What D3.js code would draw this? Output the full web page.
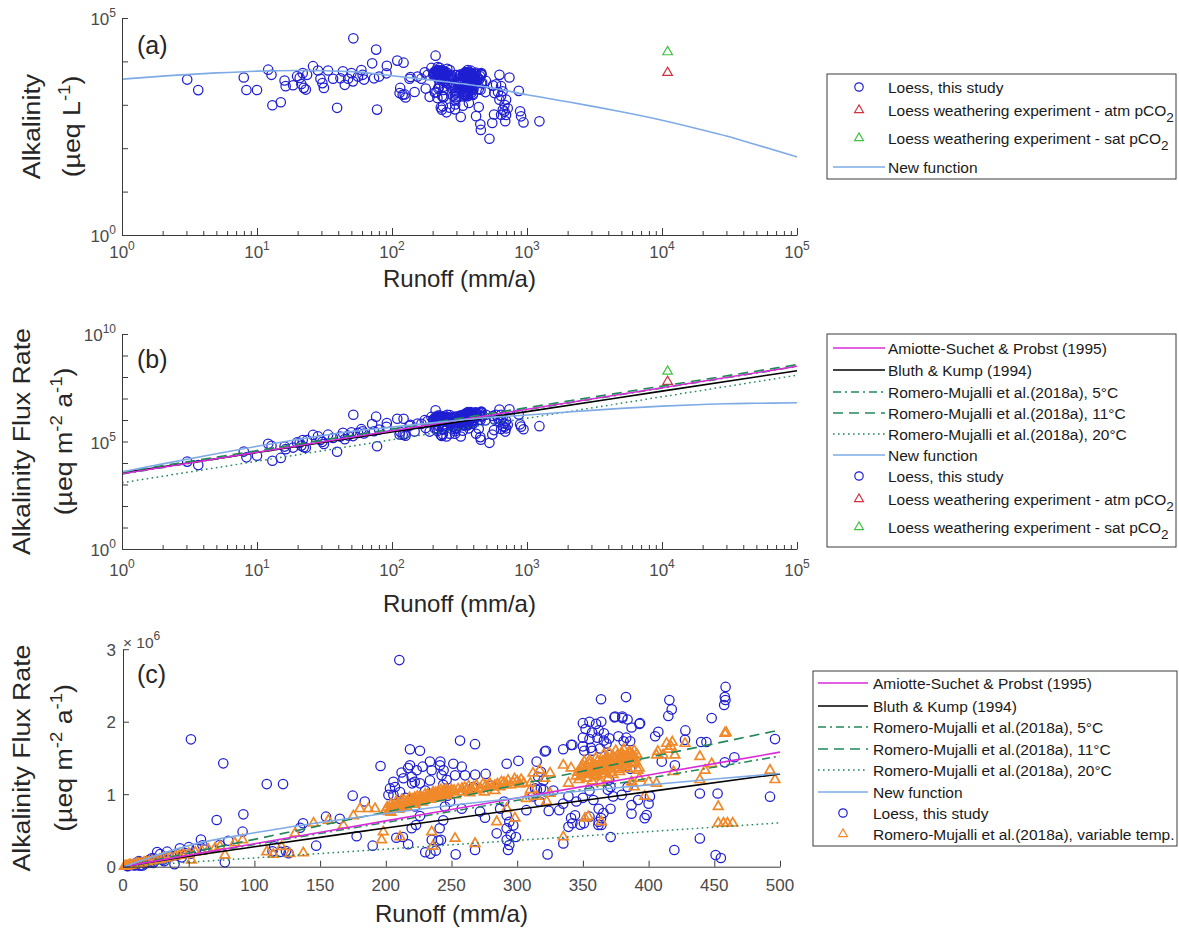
<!DOCTYPE html>
<html>
<head>
<meta charset="utf-8">
<script src="https://cdn.jsdelivr.net/npm/d3@7"></script>
<style>
  body { margin: 0; background: #fff; }
  svg { font-family: "Liberation Sans", Arial, Helvetica, sans-serif; }
</style>
</head>
<body>
<svg id="fig" width="1179" height="933"></svg>
<script>
// ---------------------------------------------------------------------------
// Loess samples: [runoff (mm/a), alkalinity flux (10^6 µeq m^-2 a^-1)]
// Concentration (µeq/L) follows as flux / runoff (1 mm = 1 L m^-2).
// ---------------------------------------------------------------------------
const loessPoints = [
  [3.04,0.0116],[3.67,0.0080],[7.98,0.0340],[8.35,0.0183],[10.0,0.0219],[12.1,0.0781],
  [12.8,0.0627],[13.0,0.0127],[15.0,0.0172],[16.0,0.0581],[16.3,0.0439],[18.5,0.0521],
  [19.8,0.0905],[20.7,0.0863],[21.3,0.0643],[22.2,0.0545],[23.0,0.0515],[23.5,0.1151],
  [21.8,0.1170],[26.0,0.2018],[28.3,0.1745],[29.5,0.1174],[30.5,0.0964],[31.3,0.0768],
  [33.6,0.2072],[36.6,0.1457],[39.2,0.0334],[41.5,0.1691],[43.3,0.2550],[44.7,0.1289],
  [47.3,0.1883],[50.1,0.2690],[51.4,0.1782],[51.7,1.757],[56.0,0.2501],[59.3,0.3742],
  [60.5,0.2963],[62.0,0.2360],[71.3,0.644],[73.6,0.2999],[76.3,1.426],[77.5,0.060],
  [80.2,0.3582],[91.0,0.483],[91.6,0.722],
  [109.4,1.14],[113.8,0.212],[115.0,0.282],[120.0,0.205],[121.8,1.14],[124.0,0.215],
  [126.0,0.186],[134.8,0.537],[137.0,0.60],[147.0,0.29],[154.5,0.69],[165.0,0.66],
  [174.8,0.98],[177.8,0.42],[184.0,0.90],[190.0,0.29],[196.0,1.389],
  [202.0,0.99],[203.2,1.08],[205.8,1.17],[205.8,0.99],[207.0,1.10],[208.0,0.40],
  [210.3,2.85],[210.8,1.03],[212.0,1.30],[213.0,0.41],[213.4,1.22],[215.0,0.95],
  [217.0,1.36],[217.0,0.31],[218.4,1.40],[218.4,1.62],[219.7,1.24],[219.7,0.53],
  [220.0,1.15],[222.0,1.17],[222.2,0.83],[223.0,0.575],[223.5,1.33],[226.0,1.60],
  [226.0,1.15],[226.0,0.70],[228.0,1.38],[229.8,0.94],[230.0,1.05],[230.0,0.20],
  [233.6,1.45],[233.6,1.19],[234.0,0.18],[234.9,1.33],[235.0,0.37],[237.0,1.00],
  [238.0,0.22],[240.0,0.36],[241.0,0.53],[241.2,1.40],[242.0,0.37],[242.5,1.26],
  [243.7,1.13],[243.7,0.64],[244.0,1.33],[245.0,0.83],[246.3,1.20],[247.0,0.98],
  [248.9,0.90],[241.5,1.45],
  [251.4,1.42],[252.7,1.26],[253.2,0.17],[256.5,1.74],[257.8,1.38],[257.8,0.80],
  [260.3,1.26],[262.0,1.05],[266.6,1.10],[267.9,1.69],[267.9,0.23],[268.0,1.27],
  [271.7,0.76],[275.5,0.676],[276.0,1.28],[280.0,1.12],[284.4,0.46],[287.0,0.80],
  [290.0,0.90],[292.0,1.42],[292.0,0.71],[292.0,0.53],[292.0,0.37],[293.0,0.23],
  [294.0,0.62],[294.0,0.30],[295.0,0.44],[297.0,0.57],[299.0,0.41],[300.9,1.46],
  [307.0,0.78],
  [312.0,0.97],[313.6,1.08],[314.8,1.45],[315.0,1.06],[316.0,1.24],[317.0,0.90],
  [318.0,1.08],[318.0,1.31],[320.0,1.19],[320.0,1.06],[321.0,1.59],[321.9,1.60],
  [323.1,0.17],[324.0,0.77],[327.5,1.05],[332.0,0.78],[335.0,1.62],[335.0,0.87],
  [335.1,0.32],[339.0,0.55],[339.0,0.97],[341.0,0.67],[341.0,1.68],[342.0,1.68],
  [342.0,0.60],[344.0,0.71],[345.0,0.90],[348.0,0.58],[350.0,1.98],[350.0,1.78],
  [350.0,1.66],[350.0,0.95],[350.8,0.60],[351.0,1.60],[352.0,1.90],[355.0,2.00],
  [355.0,1.76],[355.0,1.05],[355.0,0.69],[356.0,1.64],[357.0,1.85],[357.0,1.60],
  [358.0,0.92],[360.0,1.97],[361.0,1.78],[361.8,0.576],[362.0,1.88],[362.0,0.80],
  [362.0,0.62],[363.0,1.63],[363.8,2.31],[363.8,0.67],[364.0,2.00],[364.0,0.575],
  [365.6,0.74],[366.0,1.84],[366.0,1.74],[368.0,1.70],[369.0,1.06],[370.0,1.77],
  [370.0,1.54],[370.0,1.20],[371.0,1.10],[371.0,0.80],[371.1,0.41],[373.0,1.47],
  [373.0,0.97],[374.0,2.06],[374.5,2.07],[377.0,1.80],[379.5,0.99],[380.0,2.07],
  [380.0,2.05],[381.0,1.73],[382.8,2.34],[383.0,1.78],[383.0,1.38],[384.0,2.03],
  [384.0,1.10],[386.0,1.73],[386.0,1.35],[387.0,1.92],[387.0,0.85],[387.0,0.73],
  [392.0,0.92],[393.0,1.97],[393.5,1.98],[397.0,0.67],[398.5,0.713],[400.0,0.87],
  [401.0,0.97],[405.0,1.80],[407.4,1.86],[410.0,1.45],[415.0,2.08],[415.8,2.30],
  [417.6,2.17],[419.6,0.23],[420.0,1.40],[427.7,1.75],[428.0,1.88],[439.0,1.01],
  [439.0,0.39],[440.0,1.72],[444.0,1.72],[448.0,2.05],[451.0,0.16],[452.5,1.01],
  [455.0,0.12],[457.5,2.23],[458.0,2.34],[458.0,1.44],[458.5,2.30],[458.6,2.48],
  [465.3,1.51],[492.4,0.966],[496.2,1.76],
  [527,0.087],[553,0.21],[560,1.55],[570,0.34],[574,1.07],[590,1.74],[610,1.20],
  [625,3.06],[625,0.82],[643,1.73],[643,1.02],[643,0.38],[660,1.35],[662,0.51],
  [681,0.68],[681,0.48],[690,0.29],[700,0.41],[700,0.92],[720,0.60],[741,3.16],
  [869,1.82],[889,0.63],[904,0.49],[942,0.37],[1236,0.515]
];

// Romero-Mujalli et al. (2018a) variable-temperature runs:
// [runoff (mm/a), alkalinity flux (10^6 µeq m^-2 a^-1)]
const romeroVarPoints = [
  [1,0.004],[2,0.007],[3,0.011],[4,0.015],[5,0.019],[6,0.022],[8,0.029],[10,0.036],
  [12,0.044],[14,0.050],[16,0.058],[18,0.065],[20,0.073],[22,0.079],[25,0.090],
  [28,0.101],[30,0.110],[33,0.119],[36,0.131],[40,0.146],[43,0.157],[46,0.168],
  [50,0.182],[52,0.090],[55,0.200],[60,0.218],[65,0.236],[70,0.255],[73.8,0.28],
  [77.6,0.16],[85,0.33],[91,0.37],[109.4,0.205],[114.4,0.17],[120.7,0.276],[127,0.18],
  [131,0.46],[137.2,0.19],[145,0.60],[156.3,0.64],[167.7,0.57],[175.3,0.70],
  [180.3,0.80],[186.7,0.80],[191.8,0.80],[196.8,0.37],[198.1,0.48],[210.8,0.41],
  [234.9,0.48],[235.7,0.28],
  [200,0.78],[203,0.80],[204,0.75],[205,0.83],[207,0.82],[209,0.86],[210,0.79],
  [211,0.84],[212,0.92],[213,0.88],[215,0.87],[216,0.83],[217,0.90],[218,0.95],
  [219,0.89],[221,0.92],[222,0.86],[223,0.90],[224,0.97],[225,0.93],[227,0.95],
  [228,0.89],[229,0.94],[230,1.00],[231,0.97],[233,0.96],[234,0.93],[235,0.99],
  [236,1.03],[237,0.98],[239,1.00],[240,0.95],[241,1.02],[242,1.06],[243,1.01],
  [245,1.03],[246,0.98],[247,1.05],[249,1.04],
  [201,0.82],[202,0.76],[204,0.86],[206,0.79],[208,0.84],[208,0.90],[210,0.87],
  [212,0.82],[214,0.91],[214,0.85],[216,0.89],[218,0.86],[220,0.93],[220,0.88],
  [222,0.95],[224,0.90],[226,0.97],[226,0.91],[228,0.94],[230,0.93],[232,1.00],
  [232,0.95],[234,0.98],[236,0.96],[238,1.02],[238,0.97],[240,1.04],[242,0.99],
  [244,1.05],[244,1.00],[246,1.07],[248,1.02],[250,1.06],
  [252,1.05],[253,0.99],[258,1.08],[262,1.06],[264,1.02],[267,1.10],[272,1.08],
  [275,1.03],[276,1.12],[281,1.10],[283,1.05],[285,1.14],[290,1.16],[295,1.13],
  [300,1.18],[305,1.15],[252.7,0.39],[267.9,0.32],[284.4,0.62],[292,0.80],
  [298.3,0.67],[307,0.94],
  [255,1.07],[257,1.03],[260,1.09],[263,1.11],[266,1.05],[269,1.12],[271,1.06],
  [274,1.14],[278,1.09],[279,1.15],[283,1.12],[287,1.10],[288,1.17],[292,1.13],
  [293,1.19],[297,1.16],[298,1.21],[302,1.14],[303,1.20],
  [310,1.06],[310,1.15],[312,1.29],[315,0.97],[317,1.33],[321,1.22],[322.4,0.90],
  [325,1.01],[325,1.29],[335.1,0.41],[335.1,1.40],[339,1.15],[341,1.36],[345,1.25],
  [347,1.20],[348,1.30],[349,1.38],[350,1.27],[351,1.45],[351.6,0.67],[352,1.33],
  [353,1.22],[354,1.29],[354,0.69],[355,1.42],[356,1.35],[357,1.18],[358,1.31],
  [359,1.24],[360,1.37],[361,1.45],[362,1.33],[363,1.16],[364,1.40],[364,0.62],
  [365,1.28],[366,1.36],[367,1.48],[368,1.42],[369,1.22],[370,1.38],[371,1.30],
  [372,1.44],[373,1.52],[374,1.40],[375,1.60],[376,1.47],[377,1.34],[378,1.43],
  [379,1.55],[380,1.49],[381,1.62],[382,1.45],[383,1.38],[384,1.52],[385,1.58],
  [386,1.48],[387,1.17],[388,1.54],[388,1.15],[389,1.42],[389,1.10],[390,1.50],
  [346,1.30],[348,1.24],[350,1.34],[352,1.28],[353,1.38],[355,1.32],[357,1.27],
  [358,1.41],[360,1.30],[361,1.26],[362,1.40],[364,1.34],[365,1.45],[367,1.31],
  [368,1.38],[369,1.50],[371,1.35],[372,1.40],[373,1.27],[374,1.48],[375,1.36],
  [376,1.53],[377,1.42],[378,1.31],[379,1.47],[380,1.56],[381,1.40],[382,1.52],
  [383,1.46],[384,1.35],[385,1.51],[386,1.57],[387,1.43],[388,1.49],[389,1.60],
  [390,1.45],[391,1.55],[366,1.55],[370,1.57],[360,1.50],[355,1.47],[350,1.40],
  [392,1.33],[392.9,1.36],[393,1.22],[397,0.97],[400,1.17],[406,1.54],[406,1.15],
  [407,1.59],[411,1.54],[413.7,1.70],[415,1.62],[417,1.66],[418,1.72],[419,1.31],
  [420,1.54],[427.7,1.70],[439,1.52],[439,1.20],[443,1.33],[448,1.42],[453,0.83],
  [453,0.60],[457,0.60],[458,1.84],[459,1.85],[460,0.60],[464,0.60],[492.4,1.33],
  [496.2,1.20]
];

// Loess weathering experiment (runoff mm/a, alkalinity µeq/L)
const expRunoff = [11000];
const expAlkAtm = [5500];
const expAlkSat = [16500];

// New function: alkalinity (µeq/L) against runoff (mm/a)
const newFnRunoff = [1, 2, 5, 10, 20, 50, 100, 150, 200, 250, 300, 350, 400, 450, 500,
                     1000, 2000, 3000, 5000, 10000, 20000, 30000, 50000, 100000];
const newFnAlk = [3890, 4570, 5430, 5960, 6170, 5820, 4680, 4070, 3670, 3390, 3160,
                  2990, 2820, 2690, 2570, 1700, 1175, 933, 692, 442, 263, 191, 120, 63];

// Published runoff–flux relations: flux (µeq m^-2 a^-1) at these runoff values
const modelRunoff   = [0, 1, 10, 100, 200, 300, 400, 500, 1000, 10000, 100000];
const amiotteFlux   = [0, 3160, 31600, 316000, 632000, 948000, 1264000, 1580000, 3160000, 31600000, 316000000];
const bluthFlux     = [0, 3460, 30900, 276000, 534000, 789000, 1035000, 1280000, 2460000, 22000000, 196000000];
const romero5Flux   = [0, 3050, 30500, 305000, 610000, 915000, 1220000, 1525000, 3050000, 30500000, 305000000];
const romero11Flux  = [0, 3770, 37700, 377000, 754000, 1131000, 1508000, 1885000, 3770000, 37700000, 377000000];
const romero20Flux  = [0, 1210, 12100, 121000, 242000, 363000, 484000, 605000, 1210000, 12100000, 121000000];

// Axis ticks
const logRunoffTicks = [1, 10, 100, 1000, 10000, 100000];
const linRunoffTicks = [0, 50, 100, 150, 200, 250, 300, 350, 400, 450, 500];
const linFluxTicks = [0, 1, 2, 3];

// ---------------------------------------------------------------------------
const C = {
  blue: "#1f1fd2", red: "#cf3341", green: "#3ec23e", orange: "#f0892a",
  newFn: "#7eabe6", magenta: "#d92bd9", black: "#000", teal: "#22885a",
  axis: "#3a3a3a", tick: "#4a4a4a", title: "#262626"
};
const series = {
  amiotte:  { flux: amiotteFlux,  color: C.magenta, width: 1.6, dash: null },
  bluth:    { flux: bluthFlux,    color: C.black,   width: 1.6, dash: null },
  romero5:  { flux: romero5Flux,  color: C.teal,    width: 1.5, dash: "8,4,2,4" },
  romero11: { flux: romero11Flux, color: C.teal,    width: 1.6, dash: "10,6" },
  romero20: { flux: romero20Flux, color: C.teal,    width: 1.5, dash: "1.6,3.4" }
};

const svg = d3.select("#fig");

const xLog = d3.scaleLog().domain([1, 1e5]).range([122, 797]);
const yA = d3.scaleLog().domain([1, 1e5]).range([235, 18]);
const yB = d3.scaleLog().domain([1, 1e10]).range([549, 334]);
const xC = d3.scaleLinear().domain([0, 500]).range([123, 780]);
const yC = d3.scaleLinear().domain([0, 3]).range([866.7, 649.2]);

const circleR = 4.7;
const triSym = d3.symbol().type(d3.symbolTriangle).size(40);

// ---- helpers ---------------------------------------------------------------
function powLabel(g, x, y, exp, anchor) {
  const t = g.append("text").attr("x", x).attr("y", y).attr("text-anchor", anchor)
    .attr("font-size", 17).attr("fill", C.tick);
  t.append("tspan").text("10");
  t.append("tspan").attr("dy", -8).attr("font-size", 12).text(exp);
}

function styleAxis(g) {
  g.selectAll(".domain").attr("stroke", C.axis).attr("stroke-width", 1);
  g.selectAll(".tick line").attr("stroke", C.axis).attr("stroke-width", 1);
  g.selectAll(".tick text").remove();
}

function logXAxis(yPix) {
  const minor = [];
  for (let e = 0; e < 5; e++) for (let m = 2; m <= 9; m++) minor.push(m * Math.pow(10, e));
  const gm = svg.append("g").attr("transform", `translate(0,${yPix})`)
    .call(d3.axisBottom(xLog).tickValues(minor).tickSize(-4).tickSizeOuter(0).tickFormat(""));
  gm.select(".domain").remove();
  styleAxis(gm);
  const g = svg.append("g").attr("transform", `translate(0,${yPix})`)
    .call(d3.axisBottom(xLog).tickValues(logRunoffTicks).tickSize(-7).tickSizeOuter(0).tickFormat(""));
  styleAxis(g);
  return g;
}

function logYAxis(y, decades, labelled) {
  const vals = d3.range(0, decades + 1).map(e => Math.pow(10, e));
  const g = svg.append("g").attr("transform", "translate(122,0)")
    .call(d3.axisLeft(y).tickValues(vals).tickSize(-6).tickSizeOuter(0).tickFormat(""));
  styleAxis(g);
  labelled.forEach(e => powLabel(svg, 116, y(Math.pow(10, e)) + 7, e, "end"));
}

function xTitle(cx, yPix) {
  svg.append("text").attr("x", cx).attr("y", yPix).attr("text-anchor", "middle")
    .attr("font-size", 24).attr("fill", C.title).text("Runoff (mm/a)");
}

// two-line rotated axis title, drawn slightly stretched along its length
function yTitle(cy, x1, x2, line1, unitParts) {
  svg.append("text").attr("transform", `translate(${x1},${cy}) rotate(-90) scale(1.09,1)`)
    .attr("text-anchor", "middle").attr("font-size", 24.5).attr("fill", C.title).text(line1);
  const t = svg.append("text").attr("transform", `translate(${x2},${cy}) rotate(-90) scale(1.09,1)`)
    .attr("text-anchor", "middle").attr("font-size", 24.5).attr("fill", C.title);
  unitParts.forEach(p => {
    if (p.sup) t.append("tspan").attr("dy", -10).attr("font-size", 17).text(p.sup);
    else t.append("tspan").attr("dy", p.back ? 10 : 0).text(p.text);
  });
}

function panelLabel(x, y, s) {
  svg.append("text").attr("x", x).attr("y", y).attr("font-size", 25)
    .attr("fill", C.title).text(s);
}

function drawCircles(data, xs, ys) {
  svg.append("g").selectAll("circle").data(data).join("circle")
    .attr("cx", d => xs(d[0])).attr("cy", d => ys(d[1])).attr("r", circleR)
    .attr("fill", "none").attr("stroke", C.blue).attr("stroke-width", 1.25);
}

function drawTriangles(data, xs, ys, color, sw) {
  svg.append("g").selectAll("path").data(data).join("path")
    .attr("d", triSym)
    .attr("transform", d => `translate(${xs(d[0])},${ys(d[1])})`)
    .attr("fill", "none").attr("stroke", color).attr("stroke-width", sw);
}

function drawLine(data, xs, ys, color, width, dash) {
  const gen = d3.line().x(d => xs(d[0])).y(d => ys(d[1])).curve(d3.curveMonotoneX);
  svg.append("path").datum(data).attr("d", gen)
    .attr("fill", "none").attr("stroke", color).attr("stroke-width", width)
    .attr("stroke-dasharray", dash);
}

function legend(box, rows) {
  const g = svg.append("g");
  g.append("rect").attr("x", box.x).attr("y", box.y).attr("width", box.w).attr("height", box.h)
    .attr("fill", "#fff").attr("stroke", "#3a3a3a").attr("stroke-width", 1);
  rows.forEach(r => {
    if (r.kind === "line") {
      g.append("line").attr("x1", box.lx1).attr("x2", box.lx2).attr("y1", r.y).attr("y2", r.y)
        .attr("stroke", r.color).attr("stroke-width", r.width).attr("stroke-dasharray", r.dash);
    } else if (r.kind === "circle") {
      g.append("circle").attr("cx", box.mx).attr("cy", r.y).attr("r", 4.2)
        .attr("fill", "none").attr("stroke", r.color).attr("stroke-width", 1.2);
    } else {
      g.append("path").attr("d", d3.symbol().type(d3.symbolTriangle).size(34)())
        .attr("transform", `translate(${box.mx},${r.y})`)
        .attr("fill", "none").attr("stroke", r.color).attr("stroke-width", 1.2);
    }
    const t = g.append("text").attr("x", box.tx).attr("y", r.y + 5.5)
      .attr("font-size", 15.5).attr("fill", "#1a1a1a");
    t.append("tspan").text(r.text);
    if (r.sub) t.append("tspan").attr("dy", 6).attr("font-size", 13.5).text(r.sub);
  });
}

const fluxRows = (key) => modelRunoff.map((r, i) => [r, series[key].flux[i]]);

// ---- panel (a): alkalinity vs runoff (log-log) -----------------------------
const loessAlk = loessPoints.map(d => [d[0], d[1] * 1e6 / d[0]]);
drawCircles(loessAlk, xLog, yA);
drawTriangles(expRunoff.map((r, i) => [r, expAlkAtm[i]]), xLog, yA, C.red, 1.2);
drawTriangles(expRunoff.map((r, i) => [r, expAlkSat[i]]), xLog, yA, C.green, 1.2);
drawLine(newFnRunoff.map((r, i) => [r, newFnAlk[i]]), xLog, yA, C.newFn, 1.6, null);
logXAxis(235);
logRunoffTicks.forEach((v, i) => powLabel(svg, xLog(v), 258, i, "middle"));
logYAxis(yA, 5, [0, 5]);
xTitle(459.5, 287);
yTitle(126.5, 40, 80, "Alkalinity", [{text: "(µeq L"}, {sup: "-1"}, {text: ")", back: true}]);
panelLabel(137, 54, "(a)");

// ---- panel (b): alkalinity flux vs runoff (log-log) ------------------------
const loessFluxFull = loessPoints.map(d => [d[0], d[1] * 1e6]);
drawCircles(loessFluxFull, xLog, yB);
drawTriangles(expRunoff.map((r, i) => [r, r * expAlkAtm[i]]), xLog, yB, C.red, 1.2);
drawTriangles(expRunoff.map((r, i) => [r, r * expAlkSat[i]]), xLog, yB, C.green, 1.2);
["romero20", "romero5", "bluth", "amiotte", "romero11"].forEach(k =>
  drawLine(fluxRows(k).filter(d => d[0] > 0), xLog, yB, series[k].color, series[k].width, series[k].dash));
drawLine(newFnRunoff.map((r, i) => [r, r * newFnAlk[i]]), xLog, yB, C.newFn, 1.6, null);
logXAxis(549);
logRunoffTicks.forEach((v, i) => powLabel(svg, xLog(v), 576, i, "middle"));
logYAxis(yB, 10, [0, 5, 10]);
xTitle(459.5, 612);
yTitle(441.5, 30, 72, "Alkalinity Flux Rate",
  [{text: "(µeq m"}, {sup: "-2"}, {text: " a", back: true}, {sup: "-1"}, {text: ")", back: true}]);
panelLabel(137, 368, "(b)");

// ---- panel (c): alkalinity flux vs runoff (linear) -------------------------
drawCircles(loessPoints.filter(d => d[0] <= 500), xC, yC);
drawTriangles(romeroVarPoints, xC, yC, C.orange, 1.7);
const toE6 = rows => rows.filter(d => d[0] <= 500).map(d => [d[0], d[1] / 1e6]);
["romero20", "romero5", "romero11", "bluth", "amiotte"].forEach(k =>
  drawLine(toE6(fluxRows(k)), xC, yC, series[k].color, series[k].width, series[k].dash));
drawLine([[0, 0]].concat(toE6(newFnRunoff.map((r, i) => [r, r * newFnAlk[i]]))),
  xC, yC, C.newFn, 1.6, null);

const gcx = svg.append("g").attr("transform", "translate(0,866.7)")
  .call(d3.axisBottom(xC).tickValues(linRunoffTicks).tickSize(-6).tickSizeOuter(0).tickFormat(""));
styleAxis(gcx);
linRunoffTicks.forEach(v => svg.append("text").attr("x", xC(v)).attr("y", 891)
  .attr("text-anchor", "middle").attr("font-size", 17).attr("fill", C.tick).text(v));
const gcy = svg.append("g").attr("transform", "translate(123,0)")
  .call(d3.axisLeft(yC).tickValues(linFluxTicks).tickSize(-6).tickSizeOuter(0).tickFormat(""));
styleAxis(gcy);
linFluxTicks.forEach(v => svg.append("text").attr("x", 116).attr("y", yC(v) + 6.5)
  .attr("text-anchor", "end").attr("font-size", 17).attr("fill", C.tick).text(v));
const mult = svg.append("text").attr("x", 123).attr("y", 648).attr("font-size", 15.5).attr("fill", C.tick);
mult.append("tspan").text("× 10");
mult.append("tspan").attr("dy", -8).attr("font-size", 12).text("6");
xTitle(451.5, 922);
yTitle(758, 30, 72, "Alkalinity Flux Rate",
  [{text: "(µeq m"}, {sup: "-2"}, {text: " a", back: true}, {sup: "-1"}, {text: ")", back: true}]);
panelLabel(137, 683, "(c)");

// ---- legends ---------------------------------------------------------------
const lineRow = (k, text, y) => ({kind: "line", color: series[k].color, width: series[k].width, dash: series[k].dash, text, y});
legend({x: 827, y: 74, w: 349, h: 105, lx1: 833, lx2: 885, mx: 859, tx: 888}, [
  {kind: "circle", color: C.blue, text: "Loess, this study", y: 87},
  {kind: "tri", color: C.red, text: "Loess weathering experiment - atm pCO", sub: "2", y: 110},
  {kind: "tri", color: C.green, text: "Loess weathering experiment - sat pCO", sub: "2", y: 138},
  {kind: "line", color: C.newFn, width: 1.6, dash: null, text: "New function", y: 167}
]);
legend({x: 827, y: 334, w: 349, h: 213, lx1: 833, lx2: 885, mx: 859, tx: 888}, [
  lineRow("amiotte", "Amiotte-Suchet & Probst (1995)", 348),
  lineRow("bluth", "Bluth & Kump (1994)", 370),
  lineRow("romero5", "Romero-Mujalli et al.(2018a), 5°C", 392),
  lineRow("romero11", "Romero-Mujalli et al.(2018a), 11°C", 413),
  lineRow("romero20", "Romero-Mujalli et al.(2018a), 20°C", 434),
  {kind: "line", color: C.newFn, width: 1.6, dash: null, text: "New function", y: 455},
  {kind: "circle", color: C.blue, text: "Loess, this study", y: 476},
  {kind: "tri", color: C.red, text: "Loess weathering experiment - atm pCO", sub: "2", y: 499},
  {kind: "tri", color: C.green, text: "Loess weathering experiment - sat pCO", sub: "2", y: 527}
]);
legend({x: 813, y: 671, w: 364, h: 175, lx1: 818, lx2: 868, mx: 843, tx: 873}, [
  lineRow("amiotte", "Amiotte-Suchet & Probst (1995)", 683),
  lineRow("bluth", "Bluth & Kump (1994)", 706),
  lineRow("romero5", "Romero-Mujalli et al.(2018a), 5°C", 727),
  lineRow("romero11", "Romero-Mujalli et al.(2018a), 11°C", 749),
  lineRow("romero20", "Romero-Mujalli et al.(2018a), 20°C", 770),
  {kind: "line", color: C.newFn, width: 1.6, dash: null, text: "New function", y: 792},
  {kind: "circle", color: C.blue, text: "Loess, this study", y: 813},
  {kind: "tri", color: C.orange, text: "Romero-Mujalli et al.(2018a), variable temp.", y: 834}
]);
</script>
</body>
</html>
